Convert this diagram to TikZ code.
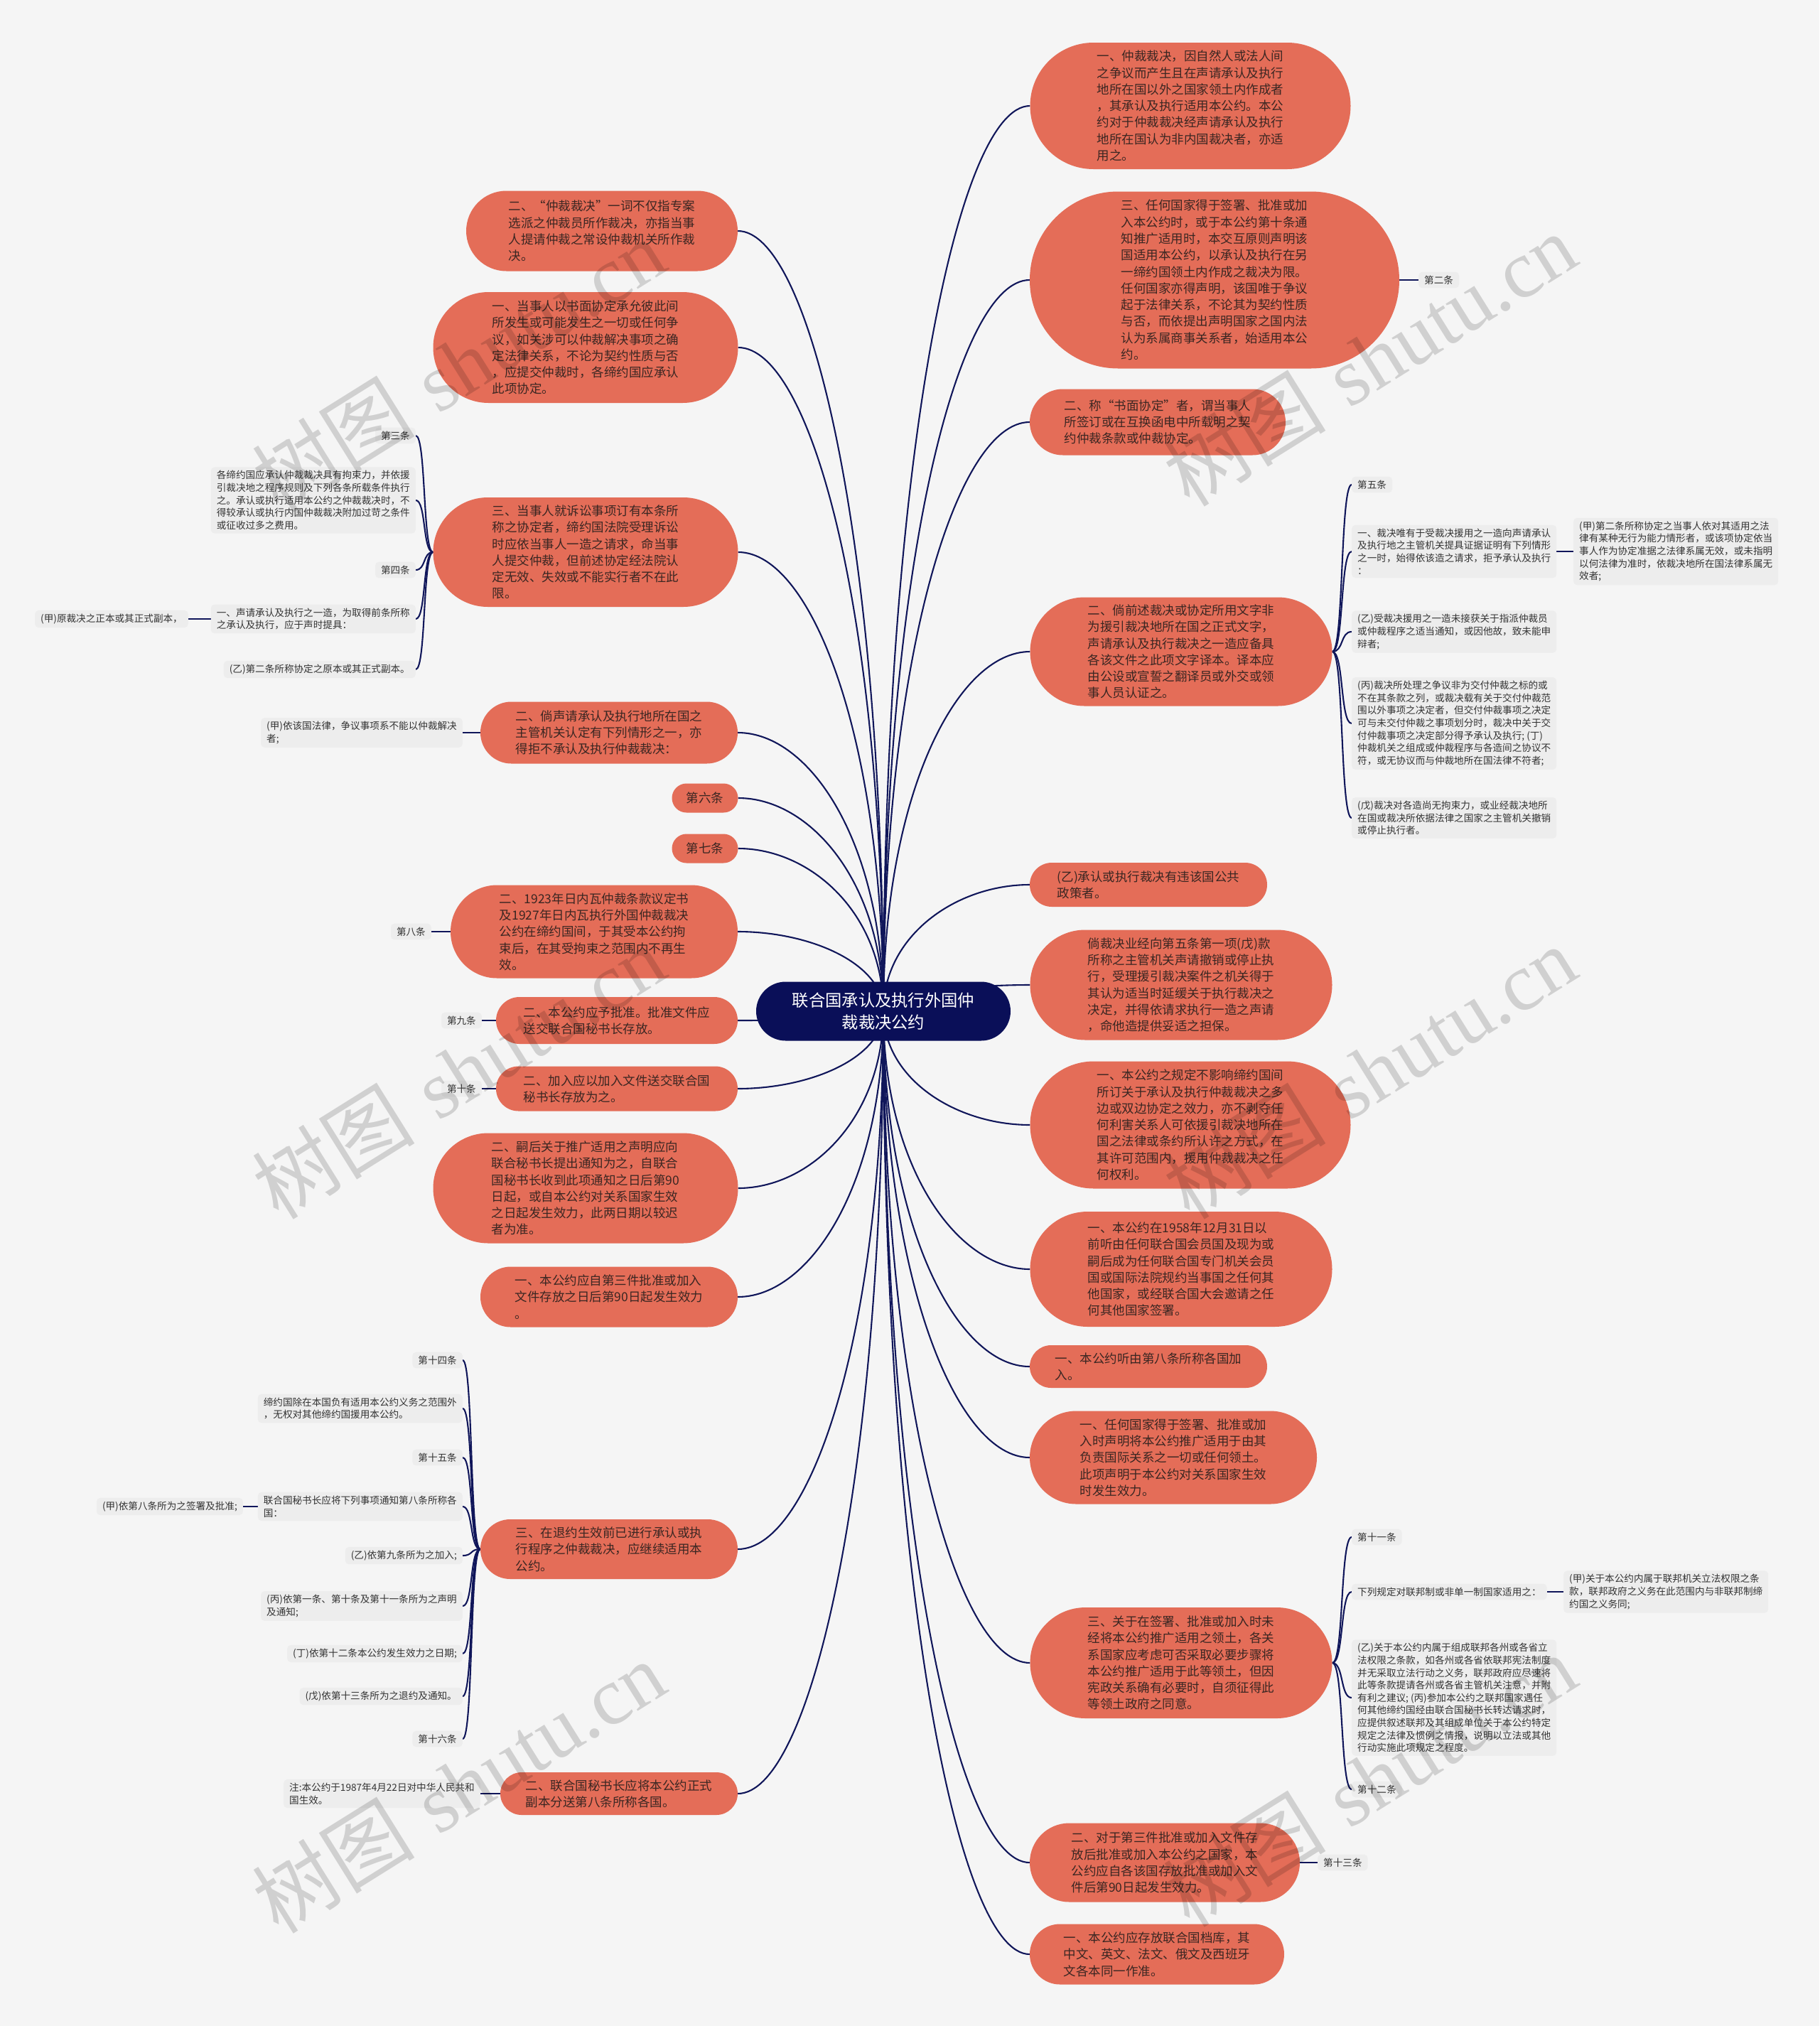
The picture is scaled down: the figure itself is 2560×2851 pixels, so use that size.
\documentclass[tikz,border=0pt]{standalone}
\usepackage{fontspec}
\newfontfamily\cjk{Noto Sans CJK SC}
\newfontfamily\wmfont{Liberation Serif}
\usetikzlibrary{calc}
\definecolor{bgc}{HTML}{F5F5F5}
\definecolor{org}{HTML}{E46D58}
\definecolor{navy}{HTML}{0A0F58}
\definecolor{lnc}{HTML}{10165A}
\definecolor{leafc}{HTML}{EDEDED}
\definecolor{otext}{HTML}{3A2622}
\definecolor{ltext}{HTML}{333333}
\pgfdeclarelayer{bglayer}
\pgfdeclarelayer{linelayer}
\pgfdeclarelayer{wmlayer}
\pgfsetlayers{bglayer,linelayer,main,wmlayer}
\tikzset{
  onode/.style={fill=org, text=otext, inner sep=0pt, align=left, font={\cjk\fontsize{17.5}{23.3}\selectfont}},
  cnode/.style={fill=navy, text=white, inner sep=0pt, align=center, rounded corners=41.5pt, minimum width=358pt, minimum height=83pt, font={\cjk\fontsize{23.3}{31}\selectfont}},
  leaf/.style={fill=leafc, text=ltext, rounded corners=5pt, inner xsep=8pt, inner ysep=5pt, align=left, font={\cjk\fontsize{13.6}{17.6}\selectfont}},
  conn/.style={draw=lnc, line width=2.1pt},
  wmark/.style={rotate=32, text=black, opacity=0.15, inner sep=0pt, font={\fontsize{115}{115}\selectfont}}
}
\newcommand\onode[5]{\pgfmathsetmacro\myhr{#4/2}\node[onode,minimum width=#3pt,minimum height=#4pt,rounded corners=\myhr pt] (#1) at (#2) {#5};}
\newcommand\leafL[3]{\node[leaf,anchor=east] (#1) at (#2) {#3};}
\newcommand\leafR[3]{\node[leaf,anchor=west] (#1) at (#2) {#3};}
\newcommand\cconn[2]{\draw[conn] let \p1=(#1), \p2=(#2) in (\p1) .. controls (\x1,{\y1+0.6*(\y2-\y1)}) and ({\x1+0.5*(\x2-\x1)},\y2) .. (\p2);}
\newcommand\bconn[2]{\draw[conn] let \p1=(#1), \p2=(#2) in (\p1) .. controls ({\x1+0.6*(\x2-\x1)},\y1) and ({\x1+0.4*(\x2-\x1)},\y2) .. (\p2);}

\begin{document}
\begin{tikzpicture}[x=1pt,y=-1pt]
\useasboundingbox (0,0) rectangle (2560,2851);
\begin{pgfonlayer}{bglayer}
\fill[bgc] (0,0) rectangle (2560,2851);
\end{pgfonlayer}

% center
\node[cnode] (ctr) at (1243,1423) {联合国承认及执行外国仲\\裁裁决公约};

% left main nodes
\onode{L1}{847,325}{382}{113}{二、“仲裁裁决”一词不仅指专案\\选派之仲裁员所作裁决，亦指当事\\人提请仲裁之常设仲裁机关所作裁\\决。}
\onode{L2}{824,489}{429}{156}{一、当事人以书面协定承允彼此间\\所发生或可能发生之一切或任何争\\议，如关涉可以仲裁解决事项之确\\定法律关系，不论为契约性质与否\\，应提交仲裁时，各缔约国应承认\\此项协定。}
\onode{L3}{824,777}{429}{154}{三、当事人就诉讼事项订有本条所\\称之协定者，缔约国法院受理诉讼\\时应依当事人一造之请求，命当事\\人提交仲裁，但前述协定经法院认\\定无效、失效或不能实行者不在此\\限。}
\onode{L4}{857,1031}{362}{87}{二、倘声请承认及执行地所在国之\\主管机关认定有下列情形之一，亦\\得拒不承认及执行仲裁裁决：}
\onode{L5}{992,1123}{93}{41}{第六条}
\onode{L6}{992,1194}{93}{41}{第七条}
\onode{L7}{836,1311}{404}{131}{二、1923年日内瓦仲裁条款议定书\\及1927年日内瓦执行外国仲裁裁决\\公约在缔约国间，于其受本公约拘\\束后，在其受拘束之范围内不再生\\效。}
\onode{L8}{868,1436}{340}{66}{二、本公约应予批准。批准文件应\\送交联合国秘书长存放。}
\onode{L9}{868,1532}{340}{63}{二、加入应以加入文件送交联合国\\秘书长存放为之。}
\onode{L10}{824,1672}{429}{155}{二、嗣后关于推广适用之声明应向\\联合秘书长提出通知为之，自联合\\国秘书长收到此项通知之日后第90\\日起，或自本公约对关系国家生效\\之日起发生效力，此两日期以较迟\\者为准。}
\onode{L11}{857,1825}{362}{85}{一、本公约应自第三件批准或加入\\文件存放之日后第90日起发生效力\\。}
\onode{L12}{857,2180}{362}{84}{三、在退约生效前已进行承认或执\\行程序之仲裁裁决，应继续适用本\\公约。}
\onode{L13}{871,2524}{334}{60}{二、联合国秘书长应将本公约正式\\副本分送第八条所称各国。}

% right main nodes
\onode{R1}{1675,149}{451}{178}{一、仲裁裁决，因自然人或法人间\\之争议而产生且在声请承认及执行\\地所在国以外之国家领土内作成者\\，其承认及执行适用本公约。本公\\约对于仲裁裁决经声请承认及执行\\地所在国认为非内国裁决者，亦适\\用之。}
\onode{R2}{1709,394}{520}{249}{三、任何国家得于签署、批准或加\\入本公约时，或于本公约第十条通\\知推广适用时，本交互原则声明该\\国适用本公约，以承认及执行在另\\一缔约国领土内作成之裁决为限。\\任何国家亦得声明，该国唯于争议\\起于法律关系，不论其为契约性质\\与否，而依提出声明国家之国内法\\认为系属商事关系者，始适用本公\\约。}
\onode{R3}{1629,594}{360}{93}{二、称“书面协定”者，谓当事人\\所签订或在互换函电中所载明之契\\约仲裁条款或仲裁协定。}
\onode{R4}{1662,917}{425}{153}{二、倘前述裁决或协定所用文字非\\为援引裁决地所在国之正式文字，\\声请承认及执行裁决之一造应备具\\各该文件之此项文字译本。译本应\\由公设或宣誓之翻译员或外交或领\\事人员认证之。}
\onode{R5}{1616,1245}{334}{62}{(乙)承认或执行裁决有违该国公共\\政策者。}
\onode{R6}{1662,1386}{425}{155}{倘裁决业经向第五条第一项(戊)款\\所称之主管机关声请撤销或停止执\\行，受理援引裁决案件之机关得于\\其认为适当时延缓关于执行裁决之\\决定，并得依请求执行一造之声请\\，命他造提供妥适之担保。}
\onode{R7}{1675,1583}{451}{179}{一、本公约之规定不影响缔约国间\\所订关于承认及执行仲裁裁决之多\\边或双边协定之效力，亦不剥夺任\\何利害关系人可依援引裁决地所在\\国之法律或条约所认许之方式，在\\其许可范围内，援用仲裁裁决之任\\何权利。}
\onode{R8}{1662,1786}{425}{162}{一、本公约在1958年12月31日以\\前听由任何联合国会员国及现为或\\嗣后成为任何联合国专门机关会员\\国或国际法院规约当事国之任何其\\他国家，或经联合国大会邀请之任\\何其他国家签署。}
\onode{R9}{1616,1923}{334}{60}{一、本公约听由第八条所称各国加\\入。}
\onode{R10}{1651,2051}{404}{131}{一、任何国家得于签署、批准或加\\入时声明将本公约推广适用于由其\\负责国际关系之一切或任何领土。\\此项声明于本公约对关系国家生效\\时发生效力。}
\onode{R11}{1662,2340}{425}{156}{三、关于在签署、批准或加入时未\\经将本公约推广适用之领土，各关\\系国家应考虑可否采取必要步骤将\\本公约推广适用于此等领土，但因\\宪政关系确有必要时，自须征得此\\等领土政府之同意。}
\onode{R12}{1639,2621}{380}{111}{二、对于第三件批准或加入文件存\\放后批准或加入本公约之国家，本\\公约应自各该国存放批准或加入文\\件后第90日起发生效力。}
\onode{R13}{1628,2750}{358}{85}{一、本公约应存放联合国档库，其\\中文、英文、法文、俄文及西班牙\\文各本同一作准。}

% left leaves
\leafL{a3}{585,613}{第三条}
\leafL{a4}{585,704}{各缔约国应承认仲裁裁决具有拘束力，并依援\\引裁决地之程序规则及下列各条所载条件执行\\之。承认或执行适用本公约之仲裁裁决时，不\\得较承认或执行内国仲裁裁决附加过苛之条件\\或征收过多之费用。}
\leafL{a5}{585,802}{第四条}
\leafL{a6}{585,871}{一、声请承认及执行之一造，为取得前条所称\\之承认及执行，应于声时提具：}
\leafL{a7}{265,871}{(甲)原裁决之正本或其正式副本，}
\leafL{a8}{585,942}{(乙)第二条所称协定之原本或其正式副本。}
\leafL{b1}{651,1031}{(甲)依该国法律，争议事项系不能以仲裁解决\\者;}
\leafL{b2}{607,1311}{第八条}
\leafL{b3}{678,1436}{第九条}
\leafL{b4}{678,1532}{第十条}
\leafL{c1}{651,1914}{第十四条}
\leafL{c2}{651,1982}{缔约国除在本国负有适用本公约义务之范围外\\，无权对其他缔约国援用本公约。}
\leafL{c3}{651,2051}{第十五条}
\leafL{c4}{651,2120}{联合国秘书长应将下列事项通知第八条所称各\\国：}
\leafL{c5}{342,2120}{(甲)依第八条所为之签署及批准;}
\leafL{c6}{651,2189}{(乙)依第九条所为之加入;}
\leafL{c7}{651,2260}{(丙)依第一条、第十条及第十一条所为之声明\\及通知;}
\leafL{c8}{651,2327}{(丁)依第十二条本公约发生效力之日期;}
\leafL{c9}{651,2387}{(戊)依第十三条所为之退约及通知。}
\leafL{c10}{651,2447}{第十六条}
\leafL{d1}{676,2524}{注:本公约于1987年4月22日对中华人民共和\\国生效。}

% right leaves
\leafR{e1}{1996,394}{第二条}
\leafR{f1}{1902,682}{第五条}
\leafR{f2}{1902,776}{一、裁决唯有于受裁决援用之一造向声请承认\\及执行地之主管机关提具证据证明有下列情形\\之一时，始得依该造之请求，拒予承认及执行\\：}
\leafR{f3}{2214,776}{(甲)第二条所称协定之当事人依对其适用之法\\律有某种无行为能力情形者，或该项协定依当\\事人作为协定准据之法律系属无效，或未指明\\以何法律为准时，依裁决地所在国法律系属无\\效者;}
\leafR{f4}{1902,889}{(乙)受裁决援用之一造未接获关于指派仲裁员\\或仲裁程序之适当通知，或因他故，致未能申\\辩者;}
\leafR{f5}{1902,1018}{(丙)裁决所处理之争议非为交付仲裁之标的或\\不在其条款之列，或裁决载有关于交付仲裁范\\围以外事项之决定者，但交付仲裁事项之决定\\可与未交付仲裁之事项划分时，裁决中关于交\\付仲裁事项之决定部分得予承认及执行; (丁)\\仲裁机关之组成或仲裁程序与各造间之协议不\\符，或无协议而与仲裁地所在国法律不符者;}
\leafR{f6}{1902,1151}{(戊)裁决对各造尚无拘束力，或业经裁决地所\\在国或裁决所依据法律之国家之主管机关撤销\\或停止执行者。}
\leafR{g1}{1902,2163}{第十一条}
\leafR{g2}{1902,2240}{下列规定对联邦制或非单一制国家适用之：}
\leafR{g3}{2200,2240}{(甲)关于本公约内属于联邦机关立法权限之条\\款，联邦政府之义务在此范围内与非联邦制缔\\约国之义务同;}
\leafR{g4}{1902,2389}{(乙)关于本公约内属于组成联邦各州或各省立\\法权限之条款，如各州或各省依联邦宪法制度\\并无采取立法行动之义务，联邦政府应尽速将\\此等条款提请各州或各省主管机关注意，并附\\有利之建议; (丙)参加本公约之联邦国家遇任\\何其他缔约国经由联合国秘书长转达请求时，\\应提供叙述联邦及其组成单位关于本公约特定\\规定之法律及惯例之情报，说明以立法或其他\\行动实施此项规定之程度。}
\leafR{g5}{1902,2518}{第十二条}
\leafR{h1}{1854,2621}{第十三条}

\begin{pgfonlayer}{linelayer}
\foreach \nm in {L1,L2,L3,L4,L5,L6,L7,L8,L9,L10,L11,L12,L13} {\cconn{ctr.center}{\nm.east}}
\foreach \nm in {R1,R2,R3,R4,R5,R6,R7,R8,R9,R10,R11,R12,R13} {\cconn{ctr.center}{\nm.west}}
\foreach \nm in {a3,a4,a5,a6,a8} {\bconn{L3.west}{\nm.east}}
\bconn{a6.west}{a7.east}
\bconn{L4.west}{b1.east}
\bconn{L7.west}{b2.east}
\bconn{L8.west}{b3.east}
\bconn{L9.west}{b4.east}
\foreach \nm in {c1,c2,c3,c4,c6,c7,c8,c9,c10} {\bconn{L12.west}{\nm.east}}
\bconn{c4.west}{c5.east}
\bconn{L13.west}{d1.east}
\bconn{R2.east}{e1.west}
\foreach \nm in {f1,f2,f4,f5,f6} {\bconn{R4.east}{\nm.west}}
\bconn{f2.east}{f3.west}
\foreach \nm in {g1,g2,g4,g5} {\bconn{R11.east}{\nm.west}}
\bconn{g2.east}{g3.west}
\bconn{R12.east}{h1.west}
\end{pgfonlayer}

\begin{pgfonlayer}{wmlayer}
\node[wmark] (w1) at (645,514) {{\cjk 树图} {\wmfont shutu.cn}};
\node[wmark] (w2) at (645,1509) {{\cjk 树图} {\wmfont shutu.cn}};
\node[wmark] (w3) at (645,2514) {{\cjk 树图} {\wmfont shutu.cn}};
\node[wmark] (w4) at (1927,506) {{\cjk 树图} {\wmfont shutu.cn}};
\node[wmark] (w5) at (1927,1509) {{\cjk 树图} {\wmfont shutu.cn}};
\node[wmark] (w6) at (1927,2505) {{\cjk 树图} {\wmfont shutu.cn}};
\end{pgfonlayer}
\end{tikzpicture}
\end{document}
